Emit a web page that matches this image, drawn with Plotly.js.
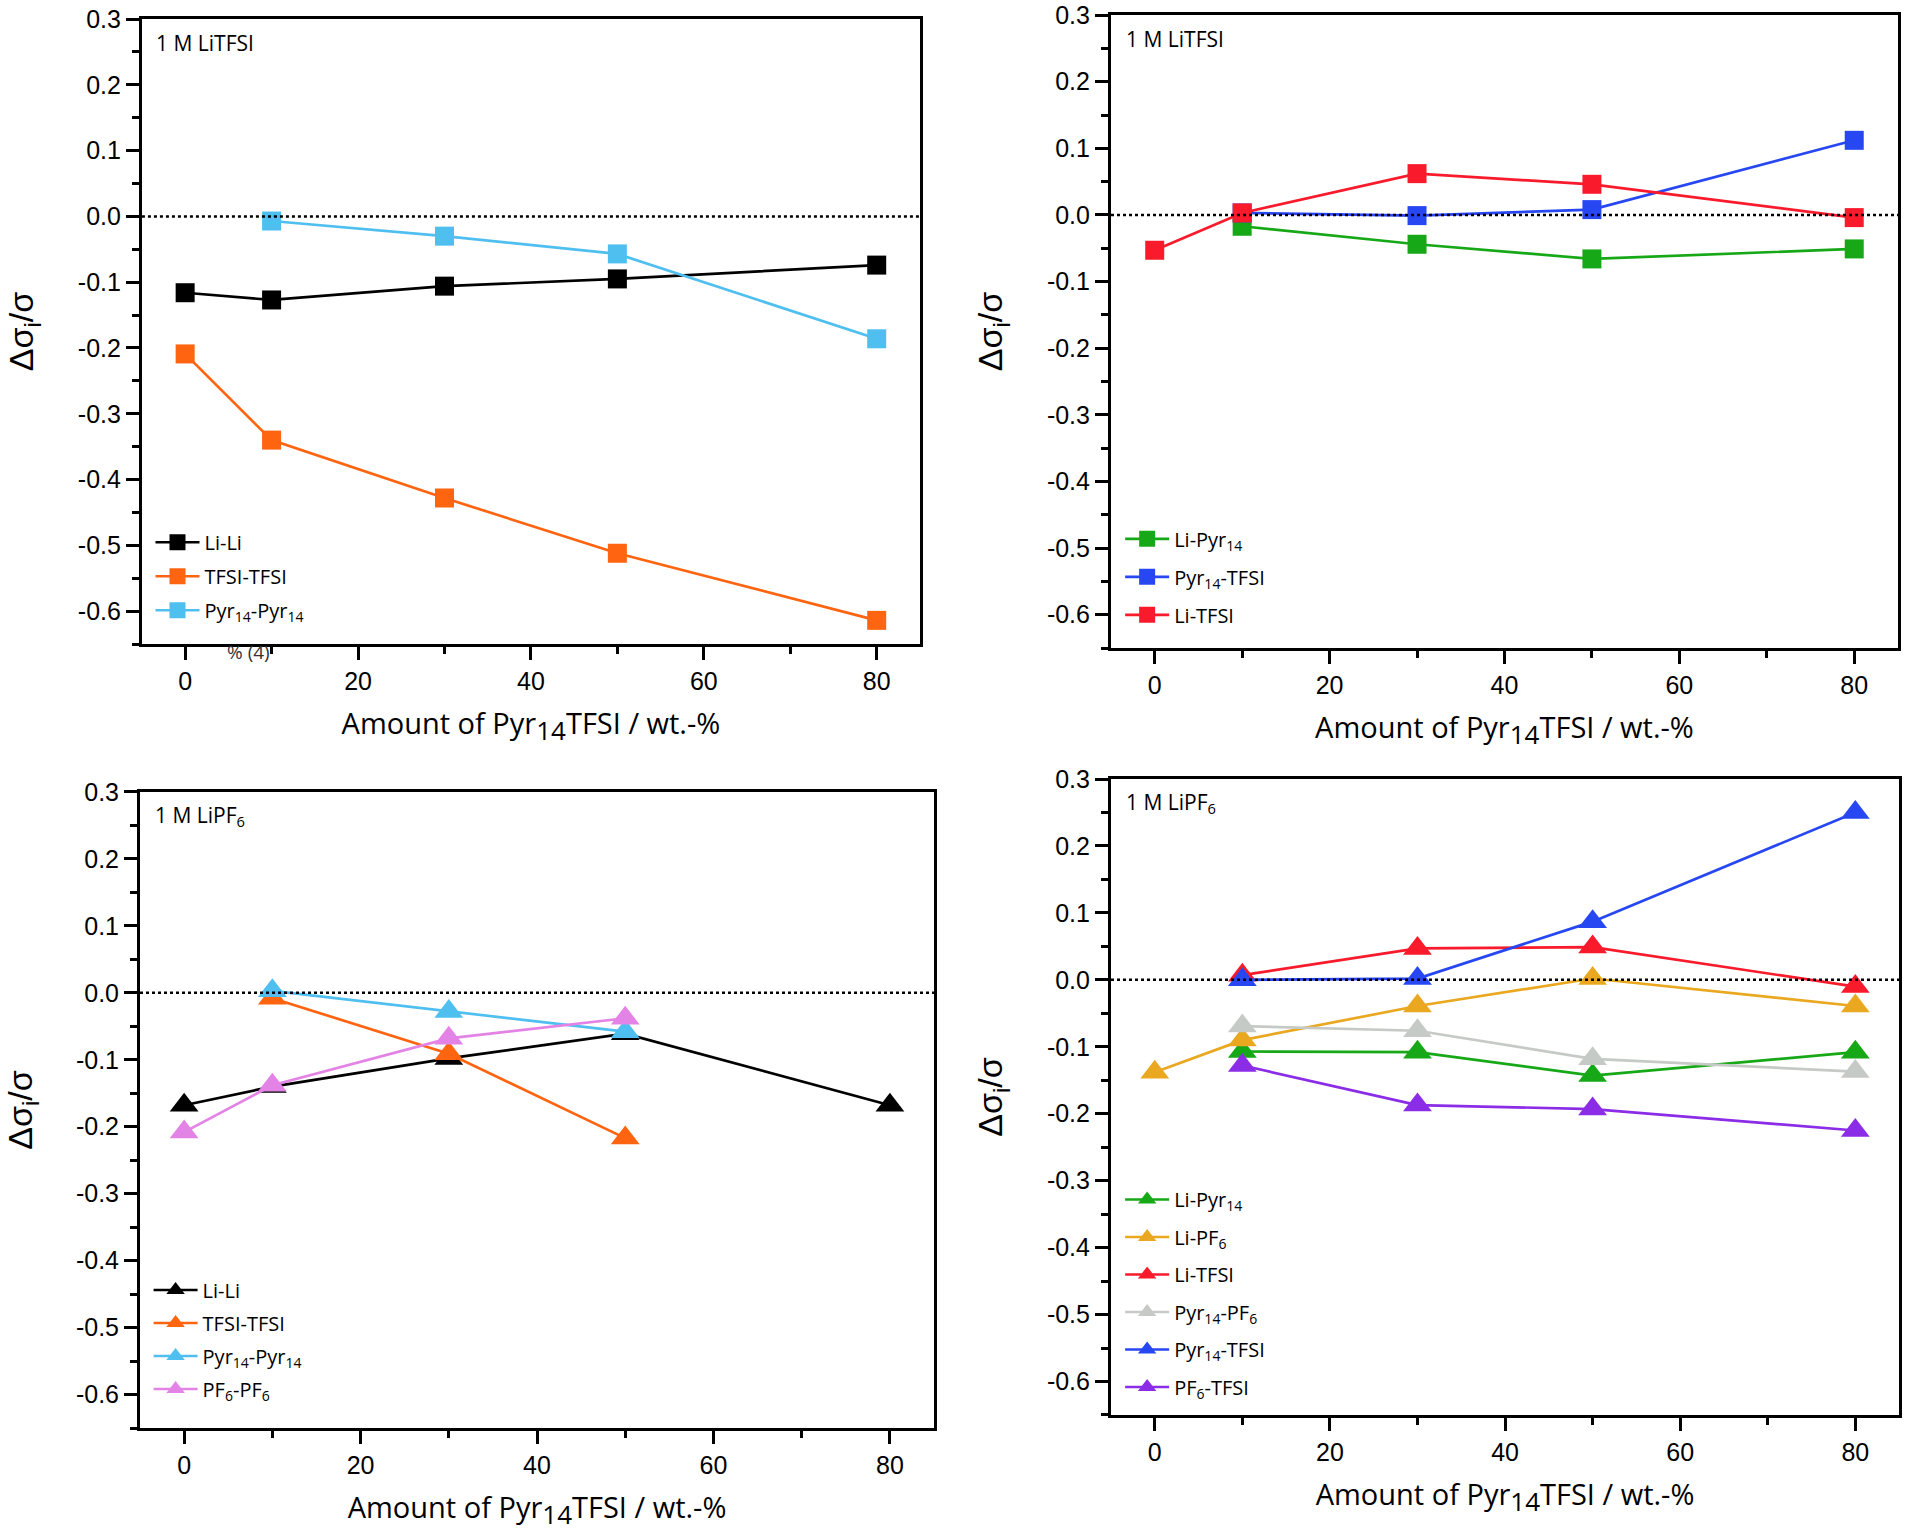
<!DOCTYPE html>
<html>
<head>
<meta charset="utf-8">
<script src="https://cdn.plot.ly/plotly-3.0.1.min.js"></script>
<style>html,body{margin:0;padding:0;background:#fff;}#chart{width:1905px;height:1536px;}</style>
</head>
<body>
<div id="chart"></div>
<script>
// ---------- data ----------
const xAll = [0, 10, 30, 50, 80];
const xNo0 = [10, 30, 50, 80];
const xP3short = [10, 30, 50];
const xP3pf6 = [0, 10, 30, 50];

// Panel 1: 1 M LiTFSI, self terms
const p1LiLi = [-0.116, -0.127, -0.106, -0.095, -0.074];
const p1TFSI = [-0.209, -0.340, -0.428, -0.512, -0.614];
const p1Pyr = [-0.007, -0.030, -0.057, -0.186];

// Panel 2: 1 M LiTFSI, distinct terms
const p2LiPyr = [-0.017, -0.044, -0.066, -0.051];
const p2PyrTFSI = [0.003, -0.001, 0.008, 0.112];
const p2LiTFSI = [-0.053, 0.003, 0.062, 0.046, -0.004];

// Panel 3: 1 M LiPF6, self terms
const p3LiLi = [-0.168, -0.140, -0.098, -0.061, -0.168];
const p3TFSI = [-0.008, -0.091, -0.217];
const p3Pyr = [0.003, -0.028, -0.058];
const p3PF6 = [-0.208, -0.138, -0.068, -0.038];

// Panel 4: 1 M LiPF6, distinct terms
const p4LiPyr = [-0.107, -0.108, -0.143, -0.108];
const p4LiPF6 = [-0.138, -0.090, -0.039, 0.002, -0.039];
const p4LiTFSI = [0.007, 0.047, 0.049, -0.010];
const p4PyrPF6 = [-0.069, -0.076, -0.118, -0.137];
const p4PyrTFSI = [0.000, 0.002, 0.087, 0.250];
const p4PF6TFSI = [-0.128, -0.187, -0.193, -0.225];

// tick labels
const yTickVals = [0.3, 0.2, 0.1, 0.0, -0.1, -0.2, -0.3, -0.4, -0.5, -0.6];
const yTickText = ['0.3', '0.2', '0.1', '0.0', '-0.1', '-0.2', '-0.3', '-0.4', '-0.5', '-0.6'];
const xTickVals = [0, 20, 40, 60, 80];
const xTickText = ['0', '20', '40', '60', '80'];

const panelLabels = ['1 M LiTFSI', '1 M LiTFSI', '1 M LiPF<sub>6</sub>', '1 M LiPF<sub>6</sub>'];
const xTitle = 'Amount of Pyr<sub><span style="font-size:26px">14</span></sub>TFSI / wt.-%';
const yTitle = 'Δσ<sub>i</sub>/σ';

// ---------- styles ----------
const C = {
  black: '#000000', orange: '#FF6410', lblue: '#4FBFF0', green: '#17A817',
  blue: '#2747F2', red: '#F91B2B', orchid: '#E383E6', gold: '#E9A820',
  gray: '#C6CAC6', purple: '#8B2CE6'
};

function tr(x, y, name, color, sym, ax, leg, msize) {
  return {
    x: x, y: y, name: name, type: 'scatter', mode: 'lines+markers',
    xaxis: 'x' + ax, yaxis: 'y' + ax, legend: leg, legendgroup: leg + name,
    line: {color: color, width: 2.7},
    marker: {symbol: sym, size: msize, color: color}
  };
}

const SQ = 19, TR = 25;
const data = [
  tr(xAll, p1LiLi, 'Li-Li', C.black, 'square', '', 'legend', SQ),
  tr(xAll, p1TFSI, 'TFSI-TFSI', C.orange, 'square', '', 'legend', SQ),
  tr(xNo0, p1Pyr, 'Pyr<sub>14</sub>-Pyr<sub>14</sub>', C.lblue, 'square', '', 'legend', SQ),

  tr(xNo0, p2LiPyr, 'Li-Pyr<sub>14</sub>', C.green, 'square', '2', 'legend2', SQ),
  tr(xNo0, p2PyrTFSI, 'Pyr<sub>14</sub>-TFSI', C.blue, 'square', '2', 'legend2', SQ),
  tr(xAll, p2LiTFSI, 'Li-TFSI', C.red, 'square', '2', 'legend2', SQ),

  tr(xAll, p3LiLi, 'Li-Li', C.black, 'triangle-up', '3', 'legend3', TR),
  tr(xP3short, p3TFSI, 'TFSI-TFSI', C.orange, 'triangle-up', '3', 'legend3', TR),
  tr(xP3short, p3Pyr, 'Pyr<sub>14</sub>-Pyr<sub>14</sub>', C.lblue, 'triangle-up', '3', 'legend3', TR),
  tr(xP3pf6, p3PF6, 'PF<sub>6</sub>-PF<sub>6</sub>', C.orchid, 'triangle-up', '3', 'legend3', TR),

  tr(xNo0, p4LiPyr, 'Li-Pyr<sub>14</sub>', C.green, 'triangle-up', '4', 'legend4', TR),
  tr(xAll, p4LiPF6, 'Li-PF<sub>6</sub>', C.gold, 'triangle-up', '4', 'legend4', TR),
  tr(xNo0, p4LiTFSI, 'Li-TFSI', C.red, 'triangle-up', '4', 'legend4', TR),
  tr(xNo0, p4PyrPF6, 'Pyr<sub>14</sub>-PF<sub>6</sub>', C.gray, 'triangle-up', '4', 'legend4', TR),
  tr(xNo0, p4PyrTFSI, 'Pyr<sub>14</sub>-TFSI', C.blue, 'triangle-up', '4', 'legend4', TR),
  tr(xNo0, p4PF6TFSI, 'PF<sub>6</sub>-TFSI', C.purple, 'triangle-up', '4', 'legend4', TR)
];

const tickFont = {family: 'Liberation Sans, Arial, sans-serif', size: 25, color: '#000'};
const titleFontX = {family: 'Open Sans, sans-serif', size: 29, color: '#000'};
const titleFontY = {family: 'Liberation Sans, Arial, sans-serif', size: 34, color: '#000'};

function xAxis(domain, anchor) {
  return {
    domain: domain, anchor: anchor, range: [-5, 85],
    tickvals: xTickVals, ticktext: xTickText, ticks: 'outside', ticklen: 13, tickwidth: 3,
    tickcolor: '#000', tickfont: tickFont,
    minor: {dtick: 10, tick0: 0, ticks: 'outside', ticklen: 7, tickwidth: 3, tickcolor: '#000'},
    showline: true, linewidth: 3, linecolor: '#000', mirror: true,
    showgrid: false, zeroline: false, automargin: false,
    title: {text: xTitle, font: titleFontX, standoff: 20}
  };
}
function yAxis(domain, anchor) {
  return {
    domain: domain, anchor: anchor, range: [-0.65, 0.3],
    tickvals: yTickVals, ticktext: yTickText, ticks: 'outside', ticklen: 13, tickwidth: 3,
    tickcolor: '#000', tickfont: tickFont,
    minor: {dtick: 0.05, tick0: 0, ticks: 'outside', ticklen: 7, tickwidth: 3, tickcolor: '#000'},
    showline: true, linewidth: 3, linecolor: '#000', mirror: true,
    showgrid: false, zeroline: false, automargin: false,
    title: {text: yTitle, font: titleFontY, standoff: 34}
  };
}

const legFont = {family: 'Open Sans, sans-serif', size: 20, color: '#000'};
function legend(x, y, gap) {
  return {x: x, y: y, xanchor: 'left', yanchor: 'bottom', xref: 'paper', yref: 'paper',
    font: legFont, bgcolor: 'rgba(0,0,0,0)', borderwidth: 0, tracegroupgap: gap,
    itemwidth: 44, itemclick: false};
}

const axSuffix = ['', '2', '3', '4'];
const shapes = axSuffix.map(s => ({
  type: 'line', xref: 'x' + s + ' domain', yref: 'y' + s, x0: 0, x1: 1, y0: 0, y1: 0,
  line: {color: '#000', width: 2.5, dash: 'dot'}
}));
const annotations = axSuffix.map((s, i) => ({
  xref: 'x' + s + ' domain', yref: 'y' + s + ' domain', x: 0.016, y: 0.962,
  xanchor: 'left', yanchor: 'middle', text: panelLabels[i], showarrow: false,
  font: {family: 'Open Sans, sans-serif', size: 21, color: '#000'}
}));
annotations.push({
  xref: 'paper', yref: 'paper', x: 248 / 1905, y: 1 - 652 / 1536, xanchor: 'center', yanchor: 'middle',
  text: '% (4)', showarrow: false, font: {family: 'Open Sans, sans-serif', size: 19, color: '#333'}
});

const layout = {
  width: 1905, height: 1536, margin: {l: 0, r: 0, t: 0, b: 0},
  paper_bgcolor: '#fff', plot_bgcolor: '#fff', showlegend: true,
  xaxis: xAxis([0.0745, 0.4829], 'y'),
  yaxis: yAxis([0.5807, 0.9876], 'x'),
  xaxis2: xAxis([0.5832, 0.9963], 'y2'),
  yaxis2: yAxis([0.5781, 0.9902], 'x2'),
  xaxis3: xAxis([0.0735, 0.4903], 'y3'),
  yaxis3: yAxis([0.0703, 0.4844], 'x3'),
  xaxis4: xAxis([0.5832, 0.9969], 'y4'),
  yaxis4: yAxis([0.0788, 0.4928], 'x4'),
  legend: legend(0.079, 0.590, 5),
  legend2: legend(0.588, 0.587, 9),
  legend3: legend(0.078, 0.083, 4),
  legend4: legend(0.588, 0.084, 8.5),
  shapes: shapes, annotations: annotations
};

Plotly.newPlot('chart', data, layout, {displayModeBar: false, staticPlot: true});
</script>
</body>
</html>
